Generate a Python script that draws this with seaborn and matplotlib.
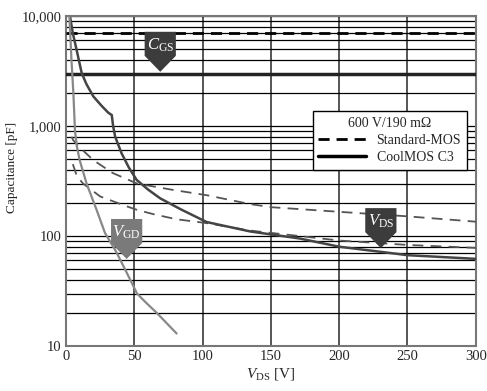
import numpy as np
import pandas as pd
import matplotlib
matplotlib.use("Agg")
import matplotlib.pyplot as plt
import seaborn as sns
from matplotlib.ticker import FixedLocator, FuncFormatter, NullFormatter
from matplotlib.lines import Line2D

sns.set_style("white")
plt.rcParams['font.family'] = ['Liberation Serif', 'DejaVu Serif']
plt.rcParams['mathtext.fontset'] = 'custom'
plt.rcParams['mathtext.rm'] = 'Liberation Serif'
plt.rcParams['mathtext.it'] = 'Liberation Serif:italic'

# values
cgs_x = [0, 300]
cgs_std = [7000, 7000]
cgs_cool = [3000, 3000]

coss_cool_x = [3, 5, 7.8, 11.5, 15, 20, 26, 31, 33.5, 34.5, 36, 40.7, 46, 51.7, 60, 69, 84, 103, 135, 171, 200, 250, 300]
coss_cool_y = [9800, 7000, 4900, 3030, 2400, 1860, 1530, 1320, 1260, 1000, 800, 565, 420, 324, 265, 220, 175, 134, 110, 95, 80, 67, 62]

crss_cool_x = [2.5, 4, 5.4, 6.6, 8, 10, 15, 22.4, 28.5, 37, 45, 52, 59, 66.5, 74, 81]
crss_cool_y = [10000, 4000, 2000, 900, 650, 490, 302, 173, 107, 71, 45, 30, 24.5, 20, 16, 13]

coss_std_x = [4, 5.4, 10, 20, 34, 52, 78, 103, 135, 150, 200, 250, 300]
coss_std_y = [800, 740, 640, 490, 375, 300, 263, 235, 195, 183, 166, 151, 135]

crss_std_x = [5, 8, 12.5, 25, 44, 52, 64, 81, 103, 135, 171, 200, 250, 300]
crss_std_y = [450, 350, 300, 229, 187, 173, 158, 142, 131, 112, 100, 91, 83, 78]

# badge labels: text, x, y, colour
badges = [
    (r"$C_{\mathrm{GS}}$", 69, 4730, "#3c3c3c"),
    (r"$V_{\mathrm{GD}}$", 44.4, 94, "#7a7a7a"),
    (r"$V_{\mathrm{DS}}$", 230.5, 118, "#3c3c3c"),
]

fig = plt.figure(figsize=(4.87, 3.91), dpi=100)
ax = fig.add_axes([0.1355, 0.115, 0.8415, 0.844])

ax.set_yscale("log")
ax.set_xlim(0, 300)
ax.set_ylim(10, 10000)

# grid
ax.yaxis.set_major_locator(FixedLocator([10, 100, 1000, 10000]))
ax.yaxis.set_minor_locator(FixedLocator([m * 10 ** d for d in range(1, 4) for m in range(2, 10)]))
ax.yaxis.set_major_formatter(FuncFormatter(lambda v, p: f"{int(v):,}"))
ax.yaxis.set_minor_formatter(NullFormatter())
ax.xaxis.set_major_locator(FixedLocator([0, 50, 100, 150, 200, 250, 300]))
ax.grid(which="both", axis="y", color="black", lw=0.9, zorder=0)
ax.grid(which="major", axis="x", color="#555555", lw=1.4, zorder=0)
ax.tick_params(which="both", length=0, labelsize=10.5, pad=3)
for s in ax.spines.values():
    s.set_color("#777777")
    s.set_linewidth(1.5)

# curves
sns.lineplot(x=cgs_x, y=cgs_std, ax=ax, color="black", lw=2, linestyle=(0, (4, 2.5)), zorder=3)
sns.lineplot(x=cgs_x, y=cgs_cool, ax=ax, color="#222222", lw=2.5, zorder=3)
sns.lineplot(x=coss_std_x, y=coss_std_y, ax=ax, color="#555555", lw=1.3, linestyle=(0, (6, 4)), zorder=3)
sns.lineplot(x=crss_std_x, y=crss_std_y, ax=ax, color="#555555", lw=1.3, linestyle=(0, (6, 4)), zorder=3)
sns.lineplot(x=coss_cool_x, y=coss_cool_y, ax=ax, color="#444444", lw=1.8, zorder=3)
sns.lineplot(x=crss_cool_x, y=crss_cool_y, ax=ax, color="#888888", lw=1.6, zorder=3)

# badges
badge_marker = [(-0.78, 1), (0.78, 1), (0.78, -0.2), (0, -1), (-0.78, -0.2), (-0.78, 1)]
for label, bx, by, col in badges:
    ax.scatter([bx], [by], marker=badge_marker, s=830, color=col, edgecolors="none", zorder=5)
    ax.annotate(label, (bx, by), xytext=(0, 5), textcoords="offset points",
                ha="center", va="center", color="white", fontsize=12, zorder=6)

# legend
handles = [Line2D([], [], color="black", lw=2, linestyle=(0, (4, 2.5))),
           Line2D([], [], color="black", lw=2.5)]
leg = ax.legend(handles, ["Standard-MOS", "CoolMOS C3"], title="600 V/190 m\u03a9",
                loc="upper right", bbox_to_anchor=(0.995, 0.733), fontsize=10, title_fontsize=10,
                frameon=True, fancybox=False, edgecolor="black", framealpha=1,
                handlelength=3.4, borderpad=0.4, labelspacing=0.3)
leg.get_frame().set_linewidth(1.0)
leg.set_zorder(7)

ax.set_xlabel(r"$V_{\mathrm{DS}}$ [V]", fontsize=11, labelpad=2)
ax.set_ylabel("Capacitance [pF]", fontsize=9.5, color="#222222")
ax.yaxis.set_label_coords(-0.118, 0.54)

fig.savefig("out.png", dpi=100)
